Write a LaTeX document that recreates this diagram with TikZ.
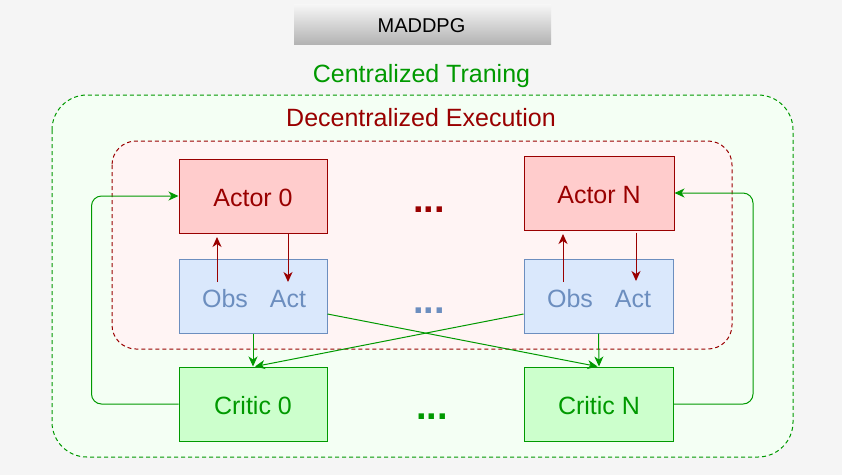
\documentclass[tikz,border=0pt]{standalone}
\usepackage{fontspec}
\setmainfont{Liberation Sans}
\usetikzlibrary{arrows.meta}
\definecolor{bgc}{HTML}{F5F5F5}
\definecolor{outfill}{HTML}{F4FFF4}
\definecolor{infill}{HTML}{FFF4F4}
\definecolor{dred}{HTML}{990000}
\definecolor{dgreen}{HTML}{009900}
\definecolor{actfill}{HTML}{FFCCCC}
\definecolor{obsfill}{HTML}{DAE8FC}
\definecolor{obsline}{HTML}{6C8EBF}
\definecolor{crifill}{HTML}{CCFFCC}
\definecolor{gtop}{HTML}{F7F7F7}
\definecolor{gbot}{HTML}{B3B3B3}
\tikzset{
  boxbase/.style={draw, line width=1pt, minimum height=74pt, inner sep=0pt,
    font=\fontsize{25}{30}\selectfont, text height=22pt},
  actorbox/.style={boxbase, fill=actfill, draw=dred, text=dred},
  obsbox/.style={boxbase, fill=obsfill, draw=obsline},
  criticbox/.style={boxbase, fill=crifill, draw=dgreen, text=dgreen},
  lbl/.style={anchor=base, inner sep=0pt, font=\fontsize{25}{30}\selectfont},
  dots/.style={anchor=base, inner sep=0pt, font=\bfseries\fontsize{38}{44}\selectfont},
  tip/.style={-{Stealth[length=10pt,width=9pt,inset=3pt]}},
  redarr/.style={tip, draw=dred, line width=1pt},
  grarr/.style={tip, draw=dgreen, line width=1pt},
}
\begin{document}
\begin{tikzpicture}[x=1pt,y=-1pt]
\useasboundingbox (0,0) rectangle (842,475);
\fill[bgc] (0,0) rectangle (842,475);
% title
\node[minimum width=257pt, minimum height=40pt, inner sep=0pt, top color=gtop, bottom color=gbot] (title) at (422.5,24) {};
\node[anchor=base, inner sep=0pt, font=\fontsize{20}{24}\selectfont] (titletext) at (421.5,32) {MADDPG};
% outer and inner regions
\draw[draw=dgreen, fill=outfill, line width=1pt, dash pattern=on 4pt off 3pt, rounded corners=35pt] (52,95) rectangle (793,457);
\node[lbl, text=dgreen] (ctlabel) at (421.5,82) {Centralized Traning};
\draw[draw=dred, fill=infill, line width=1pt, dash pattern=on 4pt off 3pt, rounded corners=24pt] (112,141) rectangle (732,349);
\node[lbl, text=dred] (delabel) at (421,126) {Decentralized Execution};
% actors
\node[actorbox, minimum width=148pt] (actor0) at (253,196) {Actor 0};
\node[actorbox, minimum width=150pt] (actorN) at (599,193) {Actor N};
% obs/act boxes
\node[obsbox, minimum width=148pt] (oa0) at (253,296) {};
\node[obsbox, minimum width=149pt] (oaN) at (598.5,296) {};
\node[lbl, text=obsline] (obs0) at (225,307) {Obs};
\node[lbl, text=obsline] (act0) at (288,307) {Act};
\node[lbl, text=obsline] (obsN) at (570,307) {Obs};
\node[lbl, text=obsline] (actN) at (633,307) {Act};
% critics
\node[criticbox, minimum width=148pt] (critic0) at (253,404) {Critic 0};
\node[criticbox, minimum width=149pt] (criticN) at (599,404) {Critic N};
% dots
\node[dots, text=dred] (dotsA) at (429,212) {...};
\node[dots, text=obsline] (dotsB) at (429,313) {...};
\node[dots, text=dgreen] (dotsC) at (432,419) {...};
% actor <-> obs/act
\coordinate (u0) at (217,282);
\coordinate (d0) at (288,282);
\coordinate (uN) at (563,282);
\coordinate (dN) at (636,281);
\draw[redarr, shorten >=3.5pt] (u0) -- (u0 |- actor0.south);
\draw[redarr] (d0 |- actor0.south) -- (d0);
\draw[redarr, shorten >=3.5pt] (uN) -- (uN |- actorN.south);
\draw[redarr, shorten <=2pt] (dN |- actorN.south) -- (dN);
% obs/act -> critics
\draw[grarr] (oa0.south) -- (critic0.north);
\draw[grarr] (oaN.south) -- (criticN.north);
\draw[grarr] ([yshift=-18pt]oa0.east) -- ([xshift=-1.5pt]criticN.north);
\draw[grarr] ([yshift=-18pt]oaN.west) -- ([xshift=2pt]critic0.north);
% critic -> actor feedback
\draw[grarr, rounded corners=10pt] (critic0.west) -- ++(-87,0) |- (actor0.west);
\draw[grarr, rounded corners=10pt] (criticN.east) -- ++(79,0) |- (actorN.east);
\end{tikzpicture}
\end{document}
